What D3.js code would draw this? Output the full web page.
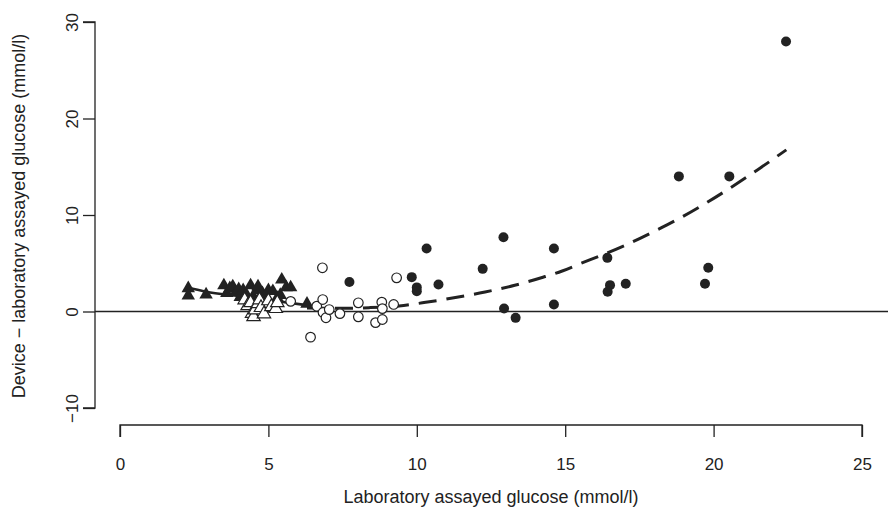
<!DOCTYPE html>
<html><head><meta charset="utf-8">
<script src="https://cdn.jsdelivr.net/npm/d3@7"></script>
<style>
html,body{margin:0;padding:0;background:#fff;}
svg text{font-family:"Liberation Sans",Arial,Helvetica,sans-serif;fill:#222;}
</style></head>
<body>
<svg id="chart" width="888" height="508"></svg>
<script>
// ---- data ----
const xTicks = [0, 5, 10, 15, 20, 25];
const yTicks = [-10, 0, 10, 20, 30];
const xTitle = "Laboratory assayed glucose (mmol/l)";
const yTitle = "Device \u2212 laboratory assayed glucose (mmol/l)";

// filled triangles
const filledTri = [
  [2.3,2.4],[2.3,1.65],[2.9,1.75],
  [3.5,2.7],[3.6,1.9],[3.7,2.4],[3.8,2.6],[3.9,2.0],[4.0,2.3],[4.05,1.5],
  [4.15,2.2],[4.25,1.8],[4.4,2.7],[4.5,1.5],[4.6,2.2],[4.65,2.6],[4.8,1.9],
  [4.9,1.3],[5.0,2.2],[5.15,2.1],[5.3,1.4],[5.4,1.7],[5.45,3.3],[5.6,2.5],
  [5.75,2.5],[6.3,0.8]
];
// open triangles
const openTri = [
  [4.2,1.2],[4.3,0.6],[4.4,0.9],[4.45,-0.2],[4.5,-0.55],[4.55,0.15],[4.65,0.8],
  [4.7,1.2],[4.75,0.4],[4.85,-0.25],[5.0,1.1],[5.1,0.5],[5.25,0.3],[5.3,0.9]
];
// open circles
const openCirc = [
  [5.75,1.05],[6.42,-2.66],[6.63,0.55],[6.82,4.53],[6.83,1.24],[6.84,-0.1],
  [6.94,-0.65],[7.05,0.2],[7.41,-0.22],[8.03,0.9],[8.03,-0.55],[8.61,-1.15],
  [8.82,0.97],[8.84,0.3],[8.84,-0.83],[9.22,0.73],[9.32,3.49]
];
// filled circles
const filledCirc = [
  [7.73,3.05],[9.83,3.56],[10.0,2.5],[10.0,2.1],[10.33,6.53],[10.73,2.8],
  [12.22,4.42],[12.92,7.7],[12.94,0.31],[13.33,-0.66],[14.62,6.53],[14.62,0.73],
  [16.42,5.56],[16.51,2.73],[16.43,2.04],[17.04,2.87],[18.83,14.0],[19.71,2.87],
  [19.82,4.53],[20.53,14.0],[22.44,27.98]
];
// solid fit line (low range)
const lowFit = [[2.3,2.45],[2.9,2.05],[4.0,1.6],[5.0,1.2],[6.3,0.65]];
// dashed fit curve
const highFit = [
  [6.3,0.36],[7.4,0.33],[8.4,0.4],[9.4,0.58],[10.3,0.95],[11.3,1.45],[12.3,2.02],
  [13.3,2.72],[14.25,3.55],[14.9,4.2],[15.5,4.95],[16.24,5.85],[17.12,7.0],
  [18.03,8.35],[18.94,9.8],[19.78,11.3],[20.65,12.98],[21.5,14.72],[22.45,16.75]
];

// ---- chart ----
const svg = d3.select("#chart");
const ink = "#222";
const x = d3.scaleLinear().domain([0, 25]).range([120, 862]);
const y = d3.scaleLinear().domain([-10, 30]).range([408, 22]);

svg.append("rect").attr("width",888).attr("height",508).attr("fill","#fff");

// x axis
const xAxis = svg.append("g").attr("transform","translate(0,425)")
  .call(d3.axisBottom(x).tickValues(xTicks).tickSize(12).tickPadding(21).tickFormat(d3.format("d")));
// y axis
const yAxis = svg.append("g").attr("transform","translate(95,0)")
  .call(d3.axisLeft(y).tickValues(yTicks).tickSize(12).tickFormat(d => d < 0 ? "\u2212" + Math.abs(d) : d));
[xAxis, yAxis].forEach(g => {
  g.select(".domain").attr("stroke", ink).attr("stroke-width", 1.3);
  g.selectAll(".tick line").attr("stroke", ink).attr("stroke-width", 1.3);
  g.selectAll(".tick text").attr("font-size", 17).attr("fill", ink)
    .style("font-family", '"Liberation Sans",Arial,sans-serif');
});
xAxis.select(".domain").attr("d", `M${x(0)},12V0H${x(25)}V12`);
yAxis.select(".domain").attr("d", `M-12,${y(-10)}H0V${y(30)}H-12`);
yAxis.selectAll(".tick").each(function(d){
  d3.select(this).select("text")
    .attr("transform", "rotate(-90)").attr("x", 0).attr("y", -17).attr("dy", 0)
    .attr("text-anchor", "middle");
});

// axis titles
svg.append("text").attr("x", 491).attr("y", 503).attr("text-anchor","middle")
  .attr("font-size", 18).text(xTitle);
svg.append("text").attr("transform","translate(25,216) rotate(-90)").attr("text-anchor","middle")
  .attr("font-size", 18).text(yTitle);

// zero line
svg.append("line").attr("x1",95).attr("x2",888).attr("y1",y(0)).attr("y2",y(0))
  .attr("stroke",ink).attr("stroke-width",1.3);

const line = d3.line().x(d => x(d[0])).y(d => y(d[1])).curve(d3.curveMonotoneX);

// low fit solid
svg.append("path").datum(lowFit).attr("d", line).attr("fill","none")
  .attr("stroke", ink).attr("stroke-width", 2.6);
// high fit dashed
svg.append("path").datum(highFit).attr("d", line).attr("fill","none")
  .attr("stroke", ink).attr("stroke-width", 3).attr("stroke-dasharray","18,10");

const tri = d3.symbol().type(d3.symbolTriangle).size(78);

svg.append("g").selectAll("path").data(filledTri).join("path")
  .attr("d", tri).attr("transform", d => `translate(${x(d[0])},${y(d[1])})`)
  .attr("fill", ink);
svg.append("g").selectAll("path").data(openTri).join("path")
  .attr("d", tri).attr("transform", d => `translate(${x(d[0])},${y(d[1])})`)
  .attr("fill", "#fff").attr("stroke", ink).attr("stroke-width", 1.2);
svg.append("g").selectAll("circle").data(openCirc).join("circle")
  .attr("cx", d => x(d[0])).attr("cy", d => y(d[1])).attr("r", 4.8)
  .attr("fill", "#fff").attr("stroke", ink).attr("stroke-width", 1.2);
svg.append("g").selectAll("circle").data(filledCirc).join("circle")
  .attr("cx", d => x(d[0])).attr("cy", d => y(d[1])).attr("r", 5)
  .attr("fill", ink);
</script>
</body></html>
